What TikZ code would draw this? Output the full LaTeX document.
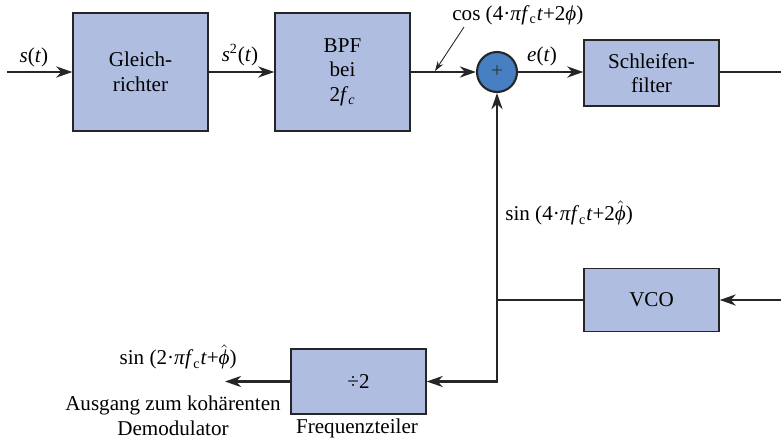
\documentclass[tikz,border=0pt]{standalone}
\usepackage{fontspec}
\setmainfont{Liberation Serif}
\usetikzlibrary{arrows.meta}
\definecolor{boxblue}{RGB}{175,190,224}
\definecolor{sumblue}{RGB}{70,128,194}
\newcommand{\phihat}{$\hat{\textit{ϕ}}$}

\begin{document}
\begin{tikzpicture}[x=0.02cm,y=-0.02cm,font=\fontsize{12}{14}\selectfont]
  % Define styles for blocks and signal lines
  \tikzstyle{block} = [draw=black!85, line width=.8pt, rectangle, fill=boxblue, minimum width=2.7cm, align=center, inner sep=2pt]
  \tikzstyle{summer} = [draw=black!85, line width=1.2pt, circle, fill=sumblue, minimum size=.8cm, inner sep=0pt]
  \tikzstyle{sig} = [line width=1.6pt, black!85]
  \tikzstyle{sigarrow} = [sig, -{Stealth[length=3.2mm,width=2.2mm,inset=1mm]}]
  \tikzstyle{pointer} = [line width=.5pt, black!85, -{Stealth[length=2mm,width=1.3mm]}]

  \useasboundingbox (0,0) rectangle (781,440);

  % Draw the blocks
  \node(rect)[block, minimum height=2.36cm] at (140.5,72) {Gleich-\\richter};
  \node(bpf)[block, minimum height=2.36cm] at (342.5,72) {BPF\\bei\\2\textit{f}\textsubscript{\textit{c}}};
  \node(sum)[summer] at (497,72) {\textcolor{black!80}{+}};
  \node(loop)[block, minimum height=1.32cm] at (651.5,73) {Schleifen-\\filter};
  \node(vco)[block, minimum height=1.26cm] at (651.5,300) {VCO};
  \node(div)[block, minimum height=1.3cm] at (358.5,381.5) {÷2};

  % Free ends and the branch point
  \coordinate (in) at (7,72);
  \coordinate (out) at (781,72);
  \coordinate (vcoin) at (781,300);
  \coordinate (tap) at (497,300);
  \coordinate (demod) at (225,381.5);
  \coordinate (costail) at (464,27);
  \coordinate (coshead) at (435,71);

  % Signal lines
  \draw[sigarrow] (in) -- (rect);
  \draw[sigarrow] (rect) -- (bpf);
  \draw[sigarrow] (bpf) -- (sum);
  \draw[sigarrow] (sum.east) -- (sum.east -| loop.west);
  \draw[sig] (loop.east |- out) -- (out);
  \draw[sigarrow] (vcoin) -- (vco);
  \draw[sig] (vco) -- (tap);
  \draw[sigarrow] (tap) -- (sum);
  \draw[sigarrow] (tap) |- (div);
  \draw[sigarrow] (div) -- (demod);
  \draw[pointer] (costail) -- (coshead);

  % Labels
  \node(st) at (34,57) {\textit{s}(\textit{t})};
  \node(s2t) at (240,55) {\textit{s}\textsuperscript{2}(\textit{t})};
  \node(cos)[anchor=west, inner sep=0pt] at (452,15) {cos (4·\textit{π}\textit{f}\textsubscript{c}\textit{t}+2\textit{ϕ})};
  \node(et) at (542,56) {\textit{e}(\textit{t})};
  \node(sin4)[anchor=west, inner sep=0pt] at (505,213) {sin (4·\textit{π}\textit{f}\textsubscript{c}\textit{t}+2\phihat)};
  \node(sin2)[anchor=east, inner sep=0pt] at (237,357) {sin (2·\textit{π}\textit{f}\textsubscript{c}\textit{t}+\phihat)};
  \node(ausg)[align=center] at (173,416) {Ausgang zum kohärenten\\Demodulator};
  \node(fteil) at (357,428) {Frequenzteiler};
\end{tikzpicture}
\end{document}
